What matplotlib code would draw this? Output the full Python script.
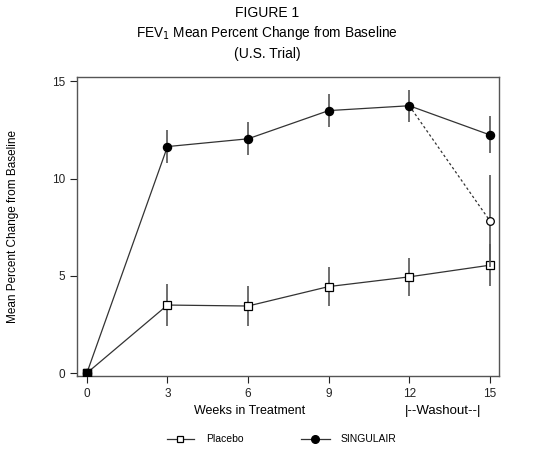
import matplotlib
matplotlib.use("Agg")
import matplotlib.pyplot as plt

plt.rcParams["font.family"] = ["Liberation Sans", "DejaVu Sans"]

# data
weeks = [0, 3, 6, 9, 12, 15]
singulair = [0, 11.65, 12.05, 13.5, 13.75, 12.25]
singulair_err = [0, 0.85, 0.85, 0.85, 0.82, 0.95]
placebo = [0, 3.5, 3.45, 4.45, 4.95, 5.55]
placebo_err = [0, 1.08, 1.05, 1.0, 0.98, 1.08]
washout_weeks = [12, 15]
washout_vals = [13.75, 7.83]
washout_err = [0, 2.35]

line_col = "#333333"

fig = plt.figure(figsize=(5.34, 4.5), dpi=100)
ax = fig.add_axes([0.144, 0.1644, 0.79, 0.665])

# washout dashed line
ax.plot(washout_weeks, washout_vals, ls=(0, (2, 2)), color=line_col, lw=0.9, zorder=2)
ax.errorbar(washout_weeks[1:], washout_vals[1:], yerr=washout_err[1:], fmt="o",
            mfc="white", mec="black", ms=5.5, mew=0.9, ecolor="#555555", elinewidth=1.2,
            capsize=0, zorder=4)

ax.errorbar(weeks, singulair, yerr=singulair_err, fmt="-o", color=line_col, lw=0.9,
            mfc="black", mec="black", ms=5.8, ecolor="#555555", elinewidth=1.2,
            capsize=0, zorder=3)
ax.errorbar(weeks, placebo, yerr=placebo_err, fmt="-s", color=line_col, lw=0.9,
            mfc="white", mec="black", ms=5.2, mew=0.9, ecolor="#555555", elinewidth=1.2,
            capsize=0, zorder=3)
ax.plot(weeks[0], placebo[0], "s", color="black", ms=5.5, zorder=5)

ax.set_xlim(-0.37, 15.33)
ax.set_ylim(-0.15, 15.24)
ax.set_xticks(weeks)
ax.set_yticks([0, 5, 10, 15])
ax.tick_params(direction="out", length=5, width=0.8, labelsize=8.5, colors="#222222")
for s in ax.spines.values():
    s.set_color("#555555")
    s.set_linewidth(1.0)

ax.set_ylabel("Mean Percent Change from Baseline", fontsize=8.5, labelpad=24)
fig.text(0.468, 0.086, "Weeks in Treatment", ha="center", va="center", fontsize=9)
fig.text(0.829, 0.086, "|--Washout--|", ha="center", va="center", fontsize=9.5)

fig.text(0.5, 0.972, "FIGURE 1", ha="center", va="center", fontsize=10)
fig.text(0.5, 0.926, "FEV$_1$ Mean Percent Change from Baseline", ha="center", va="center", fontsize=9.8)
fig.text(0.5, 0.879, "(U.S. Trial)", ha="center", va="center", fontsize=10)

# legend drawn by hand below the axes
lax = fig.add_axes([0, 0, 1, 0.05])
lax.set_xlim(0, 534)
lax.set_ylim(0, 22.5)
lax.axis("off")
lax.plot([167, 194], [11, 11], "-", color=line_col, lw=0.9)
lax.plot([180], [11], "s", mfc="white", mec="black", ms=5, mew=0.9)
lax.text(206, 11, "Placebo", va="center", fontsize=7.5)
lax.plot([301, 330], [11, 11], "-", color=line_col, lw=0.9)
lax.plot([315], [11], "o", color="black", ms=5.5)
lax.text(341, 11, "SINGULAIR", va="center", fontsize=7.5)

fig.savefig("out.png", dpi=100)
